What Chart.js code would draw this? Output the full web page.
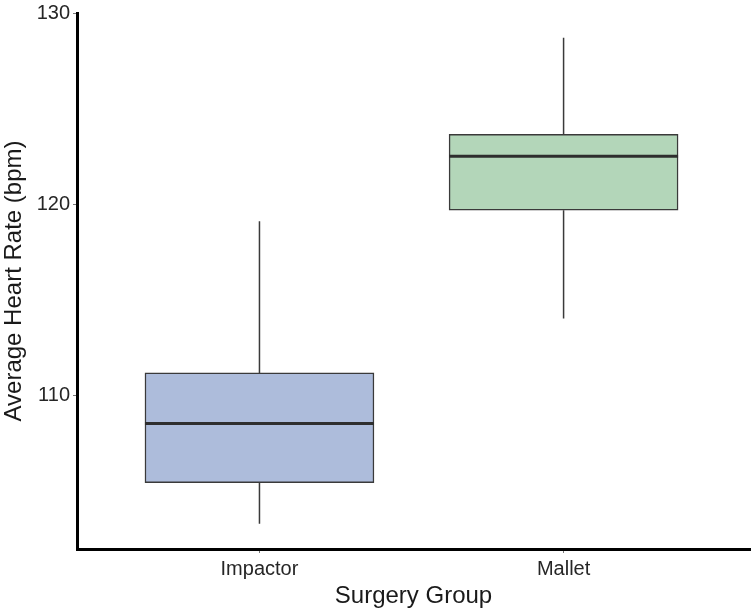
<!DOCTYPE html>
<html>
<head>
<meta charset="utf-8">
<script src="https://cdn.jsdelivr.net/npm/chart.js@4"></script>
<style>
  html, body { margin: 0; padding: 0; background: #fff; }
  #wrap { width: 751px; height: 611px; }
</style>
</head>
<body>
<div id="wrap"><canvas id="boxChart" width="751" height="611"></canvas></div>
<script>
// data
const groups = ['Impactor', 'Mallet'];
const whiskerLow = [103.3, 114.05];
const boxLow = [105.45, 119.72];
const medians = [108.55, 122.55];
const boxHigh = [111.2, 123.7];
const whiskerHigh = [119.15, 128.75];
const yTicks = [110, 120, 130];
const boxColors = ['#adbcdb', '#b3d6b9'];

const FONT = "'Liberation Sans', Arial, Helvetica, sans-serif";

// whiskers under the boxes, medians on top
const boxplotLines = {
    id: 'boxplotLines',
    beforeDatasetsDraw(chart) {
        const { ctx, scales: { x, y } } = chart;
        ctx.save();
        ctx.strokeStyle = '#3a3a3a';
        ctx.lineWidth = 1.5;
        groups.forEach((g, i) => {
            const px = x.getPixelForValue(i + 1);
            ctx.beginPath();
            ctx.moveTo(px, y.getPixelForValue(whiskerLow[i]));
            ctx.lineTo(px, y.getPixelForValue(boxLow[i]));
            ctx.moveTo(px, y.getPixelForValue(boxHigh[i]));
            ctx.lineTo(px, y.getPixelForValue(whiskerHigh[i]));
            ctx.stroke();
        });
        ctx.restore();
    },
    afterDatasetsDraw(chart) {
        const { ctx, scales: { y } } = chart;
        const meta = chart.getDatasetMeta(0);
        ctx.save();
        ctx.strokeStyle = '#2e2e2e';
        ctx.lineWidth = 3;
        meta.data.forEach((bar, i) => {
            const half = bar.width / 2;
            const py = y.getPixelForValue(medians[i]);
            ctx.beginPath();
            ctx.moveTo(bar.x - half, py);
            ctx.lineTo(bar.x + half, py);
            ctx.stroke();
        });
        ctx.restore();
    }
};

const ctx = document.getElementById('boxChart').getContext('2d');
new Chart(ctx, {
    type: 'bar',
    data: {
        datasets: [{
            data: groups.map((g, i) => ({ x: i + 1, y: [boxLow[i], boxHigh[i]] })),
            backgroundColor: boxColors,
            borderColor: '#3a3a3a',
            borderWidth: 1.5,
            borderSkipped: false,
            barThickness: 229
        }]
    },
    options: {
        responsive: false,
        animation: false,
        layout: { padding: { top: 10, right: 1, left: 0, bottom: 0 } },
        plugins: {
            legend: { display: false },
            tooltip: { enabled: false }
        },
        scales: {
            x: {
                type: 'linear',
                offset: false,
                min: 0.4,
                max: 2.613,
                afterBuildTicks: (scale) => {
                    scale.ticks = groups.map((g, i) => ({ value: i + 1 }));
                },
                afterFit: (scale) => { scale.height = 62; },
                ticks: {
                    callback: (v) => groups[v - 1],
                    color: '#262626',
                    font: { family: FONT, size: 20 },
                    padding: 4,
                    maxRotation: 0
                },
                grid: {
                    display: true,
                    offset: false,
                    drawOnChartArea: false,
                    drawTicks: true,
                    tickLength: 4,
                    color: '#777'
                },
                border: { display: true, color: '#000', width: 3 },
                title: {
                    display: true,
                    text: 'Surgery Group',
                    color: '#1a1a1a',
                    font: { family: FONT, size: 24 },
                    padding: { top: 1, bottom: 0 }
                }
            },
            y: {
                min: 101.98,
                max: 130.05,
                afterBuildTicks: (scale) => {
                    scale.ticks = yTicks.map(v => ({ value: v }));
                },
                afterFit: (scale) => { scale.width = 77; },
                ticks: {
                    color: '#262626',
                    font: { family: FONT, size: 20, lineHeight: 1 },
                    padding: 3
                },
                grid: {
                    display: true,
                    drawOnChartArea: false,
                    drawTicks: true,
                    tickLength: 4,
                    color: '#777'
                },
                border: { display: true, color: '#000', width: 3 },
                title: {
                    display: true,
                    text: 'Average Heart Rate (bpm)',
                    color: '#1a1a1a',
                    font: { family: FONT, size: 24 },
                    padding: { top: 0, bottom: 2 }
                }
            }
        }
    },
    plugins: [boxplotLines]
});
</script>
</body>
</html>
